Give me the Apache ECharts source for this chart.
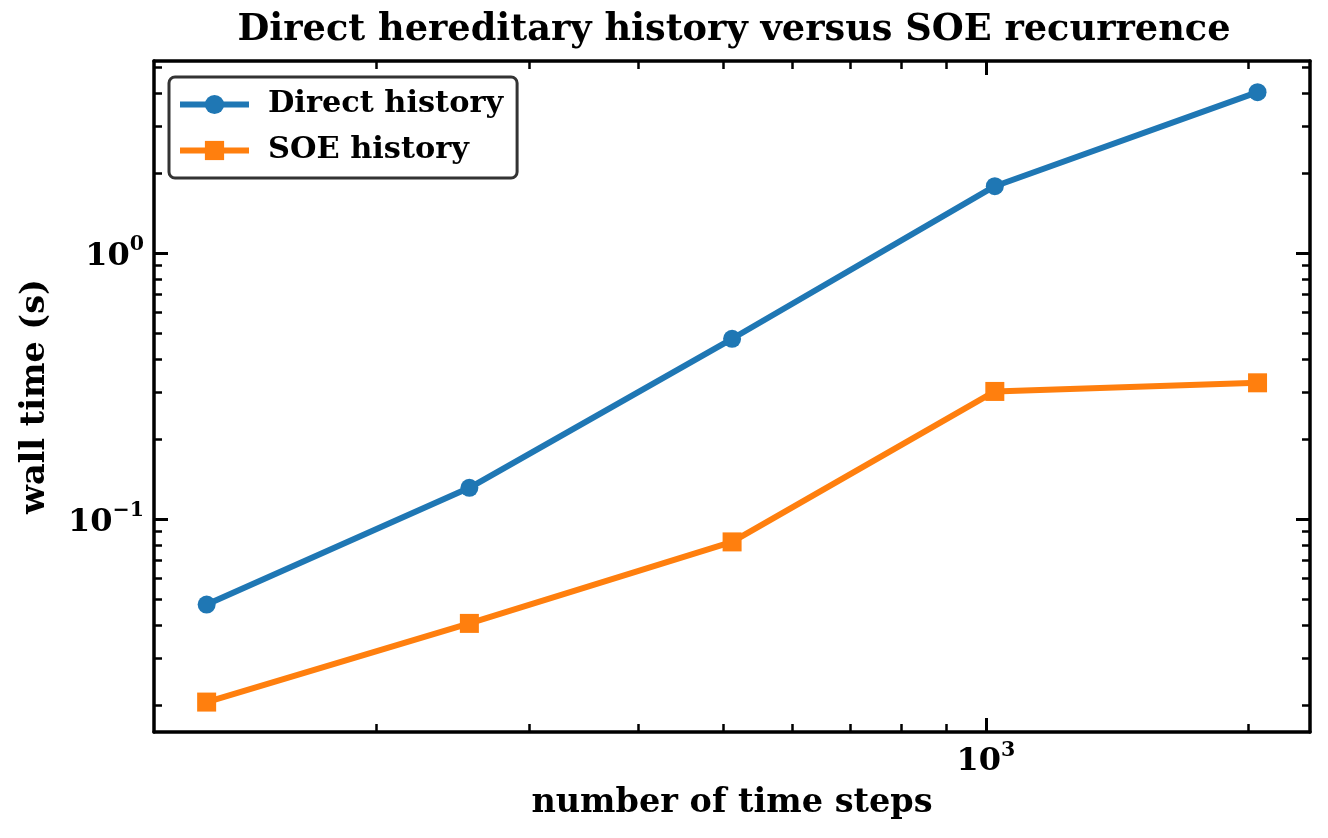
<!DOCTYPE html>
<html>
<head>
<meta charset="utf-8">
<script src="https://cdn.jsdelivr.net/npm/echarts@6/dist/echarts.min.js"></script>
<style>
  html, body { margin: 0; padding: 0; background: #fff; }
  #chart { width: 1328px; height: 838px; }
</style>
</head>
<body>
<div id="chart"></div>
<script>
// ---- data ----
const timeSteps = [128, 256, 512, 1024, 2048];
const directHistory = [0.0479, 0.1316, 0.478, 1.79, 4.04];
const soeHistory = [0.0206, 0.0407, 0.0824, 0.303, 0.3265];

// ---- axes / ticks ----
const xRange = [111.4, 2352];
const yRange = [0.0159, 5.29];
const xMajorTicks = [1000];
const xMajorExponents = ['3'];
const xMinorTicks = [200, 300, 400, 500, 600, 700, 800, 900, 2000];
const yMajorTicks = [0.1, 1];
const yMajorExponents = ['\u22121', '0'];
const yMinorTicks = [0.02, 0.03, 0.04, 0.05, 0.06, 0.07, 0.08, 0.09,
                     0.2, 0.3, 0.4, 0.5, 0.6, 0.7, 0.8, 0.9, 2, 3, 4, 5];

const FONT = 'DejaVu Serif';
const AXIS_W = 3.5;

const rich = {
  b: { fontFamily: FONT, fontWeight: 'bold', fontSize: 32, color: '#000', verticalAlign: 'bottom', lineHeight: 38 },
  s: { fontFamily: FONT, fontWeight: 'bold', fontSize: 20.5, color: '#000', verticalAlign: 'top', lineHeight: 38 }
};

function expFormatter(ticks, exps) {
  return function (v) {
    let idx = -1;
    for (let i = 0; i < ticks.length; i++) {
      if (Math.abs(ticks[i] - v) / ticks[i] < 1e-6) idx = i;
    }
    return idx < 0 ? '' : '{b|10}{s|' + exps[idx] + '}';
  };
}

function majorAxis(base, isX, position, showLabel, ticks, exps) {
  return Object.assign({}, base, {
    type: 'log',
    position: position,
    axisLine: { show: true, onZero: false, lineStyle: { color: '#000', width: AXIS_W } },
    axisTick: { show: true, inside: true, length: 14, customValues: ticks,
                lineStyle: { color: '#000', width: 3 } },
    axisLabel: { show: showLabel, customValues: ticks, margin: isX ? 8 : 10,
                 formatter: expFormatter(ticks, exps), rich: rich },
    splitLine: { show: false },
    minorTick: { show: false }
  });
}
function minorAxis(base, position, ticks) {
  return Object.assign({}, base, {
    type: 'log',
    position: position,
    axisLine: { show: false, onZero: false },
    axisTick: { show: true, inside: true, length: 8, customValues: ticks,
                lineStyle: { color: '#000', width: 2.5 } },
    axisLabel: { show: false },
    splitLine: { show: false }
  });
}

const xBase = { min: xRange[0], max: xRange[1], logBase: 10 };
const yBase = { min: yRange[0], max: yRange[1], logBase: 10 };

const nameStyle = { fontFamily: FONT, fontWeight: 'bold', fontSize: 33.5, color: '#000' };

const xAxes = [
  Object.assign(majorAxis(xBase, true, 'bottom', true, xMajorTicks, xMajorExponents), {
    name: 'number of time steps', nameLocation: 'middle', nameGap: 54,
    nameTextStyle: nameStyle
  }),
  minorAxis(xBase, 'bottom', xMinorTicks),
  majorAxis(xBase, true, 'top', false, xMajorTicks, xMajorExponents),
  minorAxis(xBase, 'top', xMinorTicks)
];
const yAxes = [
  Object.assign(majorAxis(yBase, false, 'left', true, yMajorTicks, yMajorExponents), {
    name: 'wall time (s)', nameLocation: 'middle', nameGap: 102, nameRotate: 90,
    nameTextStyle: nameStyle
  }),
  minorAxis(yBase, 'left', yMinorTicks),
  majorAxis(yBase, false, 'right', false, yMajorTicks, yMajorExponents),
  minorAxis(yBase, 'right', yMinorTicks)
];

const chart = echarts.init(document.getElementById('chart'), null, { renderer: 'canvas' });
chart.setOption({
  animation: false,
  backgroundColor: '#fff',
  title: {
    text: 'Direct hereditary history versus SOE recurrence',
    left: 729, textAlign: 'center', top: 7,
    textStyle: { fontFamily: FONT, fontWeight: 'bold', fontSize: 36.7, color: '#000' }
  },
  grid: { left: 154, right: 18, top: 61, bottom: 106, containLabel: false },
  legend: {
    orient: 'vertical',
    left: 169, top: 77,
    padding: [12, 14, 12, 8],
    itemGap: 15,
    itemWidth: 69, itemHeight: 24,
    backgroundColor: 'rgba(255,255,255,0.8)',
    borderColor: '#333', borderWidth: 3, borderRadius: 6,
    lineStyle: { width: 6 },
    textStyle: { fontFamily: FONT, fontWeight: 'bold', fontSize: 30.4, color: '#000',
                 lineHeight: 31, padding: [0, 0, 0, 14] },
    data: ['Direct history', 'SOE history']
  },
  xAxis: xAxes,
  yAxis: yAxes,
  series: [
    {
      name: 'Direct history', type: 'line', xAxisIndex: 0, yAxisIndex: 0,
      data: timeSteps.map((x, i) => [x, directHistory[i]]),
      symbol: 'circle', symbolSize: 18,
      lineStyle: { color: '#1f77b4', width: 6 },
      itemStyle: { color: '#1f77b4' }
    },
    {
      name: 'SOE history', type: 'line', xAxisIndex: 0, yAxisIndex: 0,
      data: timeSteps.map((x, i) => [x, soeHistory[i]]),
      symbol: 'rect', symbolSize: 19,
      lineStyle: { color: '#ff7f0e', width: 6 },
      itemStyle: { color: '#ff7f0e' }
    }
  ]
});
</script>
</body>
</html>
